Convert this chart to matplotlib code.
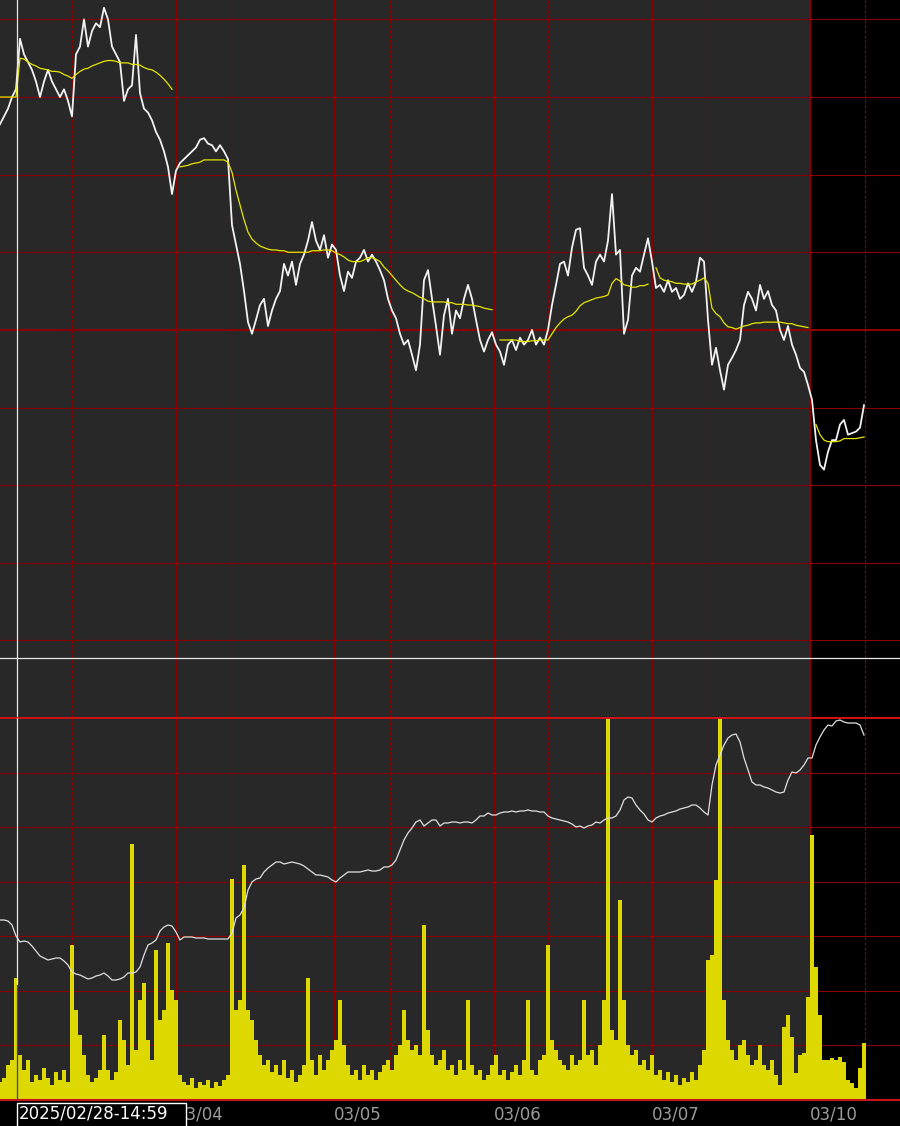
import matplotlib
matplotlib.use("Agg")
import matplotlib.pyplot as plt
from matplotlib.patches import Rectangle
import numpy as np

# --- chart data (one sample every bar slot) ---
price = [
    37265, 37275, 37285, 37300, 37310, 37375, 37355, 37345, 37335, 37320,
    37300, 37320, 37335, 37320, 37310, 37300, 37310, 37295, 37275, 37355,
    37365, 37400, 37365, 37385, 37395, 37390, 37415, 37400, 37365, 37355,
    37345, 37295, 37310, 37315, 37380, 37305, 37285, 37280, 37270, 37255,
    37245, 37230, 37210, 37175, 37205, 37215, 37220, 37225, 37230, 37235,
    37245, 37247, 37240, 37238, 37230, 37238, 37230, 37220, 37135, 37110,
    37085, 37050, 37010, 36995, 37013, 37032, 37040, 37005, 37025, 37040,
    37050, 37085, 37070, 37088, 37058, 37085, 37097, 37115, 37139, 37115,
    37103, 37122, 37093, 37110, 37103, 37070, 37050, 37075, 37067, 37088,
    37093, 37103, 37088, 37097, 37088, 37077, 37064, 37040, 37025, 37015,
    36995, 36981, 36987, 36968, 36948, 36981, 37064, 37077, 37040, 37005,
    36968, 37019, 37040, 36995, 37025, 37015, 37040, 37058, 37040, 37013,
    36987, 36972, 36987, 36997, 36981, 36972, 36955, 36981, 36987, 36974,
    36990, 36981, 36987, 37000, 36981, 36990, 36981, 37000, 37032, 37058,
    37085, 37088, 37070, 37106, 37129, 37131, 37080, 37070, 37058, 37088,
    37097, 37088, 37115, 37175, 37097, 37103, 36995, 37013, 37070, 37080,
    37075, 37097, 37118, 37088, 37054, 37058, 37049, 37064, 37049, 37054,
    37040, 37045, 37060, 37049, 37062, 37093, 37088, 37013, 36955, 36977,
    36948, 36923, 36955, 36964, 36974, 36987, 37032, 37049, 37040, 37025,
    37058, 37040, 37050, 37032, 37025, 37000, 36987, 37005, 36981, 36968,
    36951, 36946, 36929, 36910, 36858, 36826, 36820, 36843, 36858, 36858,
    36878, 36884, 36865, 36867, 36869, 36874, 36903,
]

# session moving average, None where it restarts
price_ma = [
    37300, 37300, 37300, 37300, 37300, 37350, 37349, 37345, 37342, 37340,
    37337, 37336, 37335, 37333, 37333, 37332, 37329, 37327, 37324, 37329,
    37333, 37336, 37337, 37340, 37342, 37344, 37346, 37347, 37347, 37346,
    37344, 37344, 37344, 37342, 37342, 37341, 37338, 37336, 37335, 37332,
    37328, 37323, 37317, 37310, None, 37210, 37211, 37212, 37214, 37215,
    37216, 37219, 37219, 37219, 37219, 37219, 37219, 37216, 37203, 37180,
    37161, 37142, 37126, 37117, 37112, 37108, 37106, 37104, 37103, 37103,
    37102, 37102, 37100, 37100, 37100, 37100, 37100, 37100, 37102, 37102,
    37102, 37103, 37103, 37102, 37099, 37097, 37094, 37090, 37088, 37088,
    37088, 37090, 37093, 37093, 37091, 37088, 37081, 37076, 37070, 37064,
    37058, 37053, 37050, 37048, 37045, 37042, 37040, 37037, 37036, 37036,
    37036, 37036, 37035, 37035, 37033, 37033, 37033, 37032, 37032, 37031,
    37030, 37028, 37027, 37026, None, 36987, 36987, 36987, 36987, 36987,
    36985, 36985, 36985, 36986, 36986, 36987, 36987, 36987, 36995, 37003,
    37009, 37014, 37017, 37019, 37024, 37031, 37035, 37037, 37039, 37041,
    37042, 37043, 37045, 37060, 37066, 37063, 37058, 37057, 37055, 37055,
    37057, 37057, 37059, None, 37080, 37067, 37064, 37063, 37062, 37060,
    37060, 37059, 37059, 37059, 37062, 37064, 37067, 37060, 37028, 37021,
    37017, 37009, 37004, 37003, 37001, 37003, 37005, 37006, 37008, 37009,
    37009, 37010, 37010, 37010, 37010, 37010, 37009, 37008, 37008, 37006,
    37005, 37004, 37003, None, 36878, 36865, 36858, 36856, 36856, 36856,
    36857, 36860, 36860, 36860, 36860, 36861, 36862,
]

volume = [
    330, 400, 640, 730, 2240, 820, 550, 730, 330, 460,
    370, 590, 400, 270, 510, 370, 550, 330, 2840, 1650,
    1190, 820, 460, 330, 400, 550, 1190, 550, 370, 510,
    1470, 1100, 640, 4690, 920, 1830, 2140, 1100, 730, 2750,
    1470, 1650, 2880, 2020, 1830, 460, 330, 270, 400, 220,
    330, 270, 370, 220, 330, 260, 370, 460, 4050, 1650,
    1830, 4310, 1650, 1470, 1100, 820, 640, 730, 510, 640,
    460, 730, 400, 550, 330, 460, 640, 2240, 730, 460,
    820, 550, 730, 920, 1100, 1830, 1010, 640, 460, 550,
    370, 640, 460, 550, 370, 510, 640, 730, 550, 820,
    1010, 1650, 1100, 920, 1010, 820, 3210, 1280, 820, 640,
    730, 920, 550, 640, 460, 730, 550, 1830, 640, 460,
    550, 370, 460, 640, 820, 460, 550, 370, 510, 640,
    460, 730, 1830, 550, 460, 730, 820, 2840, 1100, 920,
    730, 640, 550, 820, 640, 730, 1830, 820, 920, 640,
    1010, 1830, 7000, 1280, 1100, 3670, 1830, 1010, 820, 920,
    640, 730, 550, 820, 460, 550, 370, 510, 330, 460,
    270, 400, 330, 510, 370, 640, 920, 2570, 2660, 4030,
    7000, 1830, 1100, 920, 730, 1010, 1100, 820, 640, 730,
    1010, 640, 550, 730, 460, 270, 1340, 1560, 1150, 490,
    820, 860, 1890, 4860, 2440, 1560, 730, 730, 770, 730,
    790, 700, 370, 310, 220, 590, 1040,
]

open_interest = [
    9000, 9000, 8950, 8750, 8200, 7900, 7950, 7900, 7700, 7450,
    7200, 7100, 7000, 7050, 7100, 7100, 6950, 6750, 6400, 6300,
    6250, 6150, 6050, 6100, 6200, 6250, 6350, 6200, 6000, 6000,
    6050, 6150, 6350, 6350, 6400, 6650, 7250, 7750, 7850, 8000,
    8450, 8650, 8750, 8700, 8400, 8000, 8150, 8150, 8150, 8100,
    8100, 8100, 8050, 8050, 8050, 8050, 8050, 8050, 8350, 9100,
    9250, 9600, 10500, 10900, 11050, 11100, 11400, 11600, 11750, 11900,
    11900, 11800, 11850, 11900, 11850, 11800, 11700, 11550, 11400, 11250,
    11250, 11200, 11150, 11000, 10900, 11100, 11250, 11400, 11400, 11400,
    11400, 11450, 11500, 11450, 11450, 11500, 11650, 11650, 11750, 12000,
    12500, 13000, 13350, 13600, 13900, 14000, 13700, 13850, 14000, 14000,
    13700, 13850, 13850, 13900, 13900, 13850, 13900, 13900, 13850, 14000,
    14200, 14200, 14350, 14250, 14250, 14350, 14400, 14400, 14450, 14400,
    14450, 14450, 14500, 14450, 14450, 14400, 14400, 14200, 14100, 14050,
    14000, 13950, 13900, 13800, 13650, 13700, 13600, 13700, 13750, 13900,
    13850, 14000, 14100, 14100, 14200, 14500, 15000, 15150, 15100, 14750,
    14500, 14300, 14000, 13900, 14100, 14200, 14250, 14350, 14400, 14450,
    14550, 14600, 14650, 14750, 14750, 14600, 14400, 14250, 15750, 16750,
    17250, 17750, 18100, 18250, 18300, 17900, 17100, 16500, 15900, 15750,
    15750, 15650, 15600, 15500, 15400, 15350, 15400, 16000, 16400, 16350,
    16500, 16750, 17100, 17100, 17750, 18150, 18500, 18750, 18700, 18950,
    19000, 18900, 18850, 18850, 18850, 18750, 18250,
]

day_starts = [43.9, 83.5, 123.4, 163.0, 202.5]
day_labels = ["03/04", "03/05", "03/06", "03/07", "03/10"]
session_marks = [18.1, 57.7, 97.4, 137.1, 176.75, 216.25]
live_start = 202.5
cursor_x = 4.25
cursor_price = 36577
cursor_label = "2025/02/28-14:59"

BG = "#282828"
GRID = "#880000"
EDGE = "#c81414"
XMAX = 225

fig = plt.figure(figsize=(9, 11.26), dpi=100, facecolor="black")
ax_p = fig.add_axes([0, 408 / 1126, 1, 718 / 1126])
ax_v = fig.add_axes([0, 26 / 1126, 1, 382 / 1126])

x = np.arange(len(price))

for ax in (ax_p, ax_v):
    ax.set_facecolor(BG)
    ax.set_xlim(0, XMAX)
    ax.axvspan(live_start, XMAX, color="black", lw=0, zorder=0)
    for d in day_starts:
        ax.axvline(d, color=GRID, lw=0.8, zorder=1)
    for s in session_marks:
        ax.axvline(s, color=GRID, lw=0.8, ls=(0, (3, 1.5)), zorder=1)
    for sp in ax.spines.values():
        sp.set_visible(False)
    ax.set_yticks([])

# price panel
for lv in range(36600, 37401, 100):
    ax_p.axhline(lv, color=GRID, lw=1.5 if lv == 37000 else 0.8, zorder=1)
ax_p.plot(x, price, color="#f2f2f2", lw=1.3, zorder=3)
ax_p.plot(x, np.array(price_ma, dtype=float), color="#e6e600", lw=0.9, zorder=4)
ax_p.set_ylim(36500, 37425)
ax_p.set_xticks([])
ax_p.axhline(cursor_price, color="#e8e8e8", lw=0.9, zorder=5)
ax_p.axvline(cursor_x, color="#e8e8e8", lw=0.9, zorder=5)

# volume panel
for lv in range(1000, 7000, 1000):
    ax_v.axhline(lv, color=GRID, lw=0.8, zorder=1)
ax_v.bar(x, volume, width=0.9, color="#dcd800", lw=0, zorder=3)
ax_v.set_ylim(0, 7000)
ax_v.axhline(7000, color=EDGE, lw=1.5, clip_on=False, zorder=5)
ax_v.axhline(0, color=EDGE, lw=1.5, clip_on=False, zorder=5)
ax_v.axvline(cursor_x, ymin=0.3, color="#e8e8e8", lw=0.9, zorder=5)
ax_v.axvline(cursor_x, ymax=0.3, color="#3030ff", lw=0.9, zorder=5)
ax_v.set_xticks(day_starts)
ax_v.set_xticklabels(day_labels, ha="left", color="#9a9a9a", fontsize=12)
ax_v.tick_params(axis="x", length=0, pad=4)

ax_oi = ax_v.twinx()
ax_oi.plot(x, open_interest, color="#e0e0e0", lw=0.9, zorder=3)
ax_oi.set_ylim(0, 19100)
ax_oi.set_xlim(0, XMAX)
ax_oi.set_yticks([])
for sp in ax_oi.spines.values():
    sp.set_visible(False)

# cursor time box
fig.add_artist(Rectangle((17 / 900, -0.002), 169 / 900, 25.5 / 1126,
                         transform=fig.transFigure, facecolor="black",
                         edgecolor="white", lw=1))
fig.text(19 / 900, 1 - 1113 / 1126, cursor_label, color="white",
         fontsize=12, va="center", ha="left")

fig.savefig("out.png", dpi=100, facecolor="black")
